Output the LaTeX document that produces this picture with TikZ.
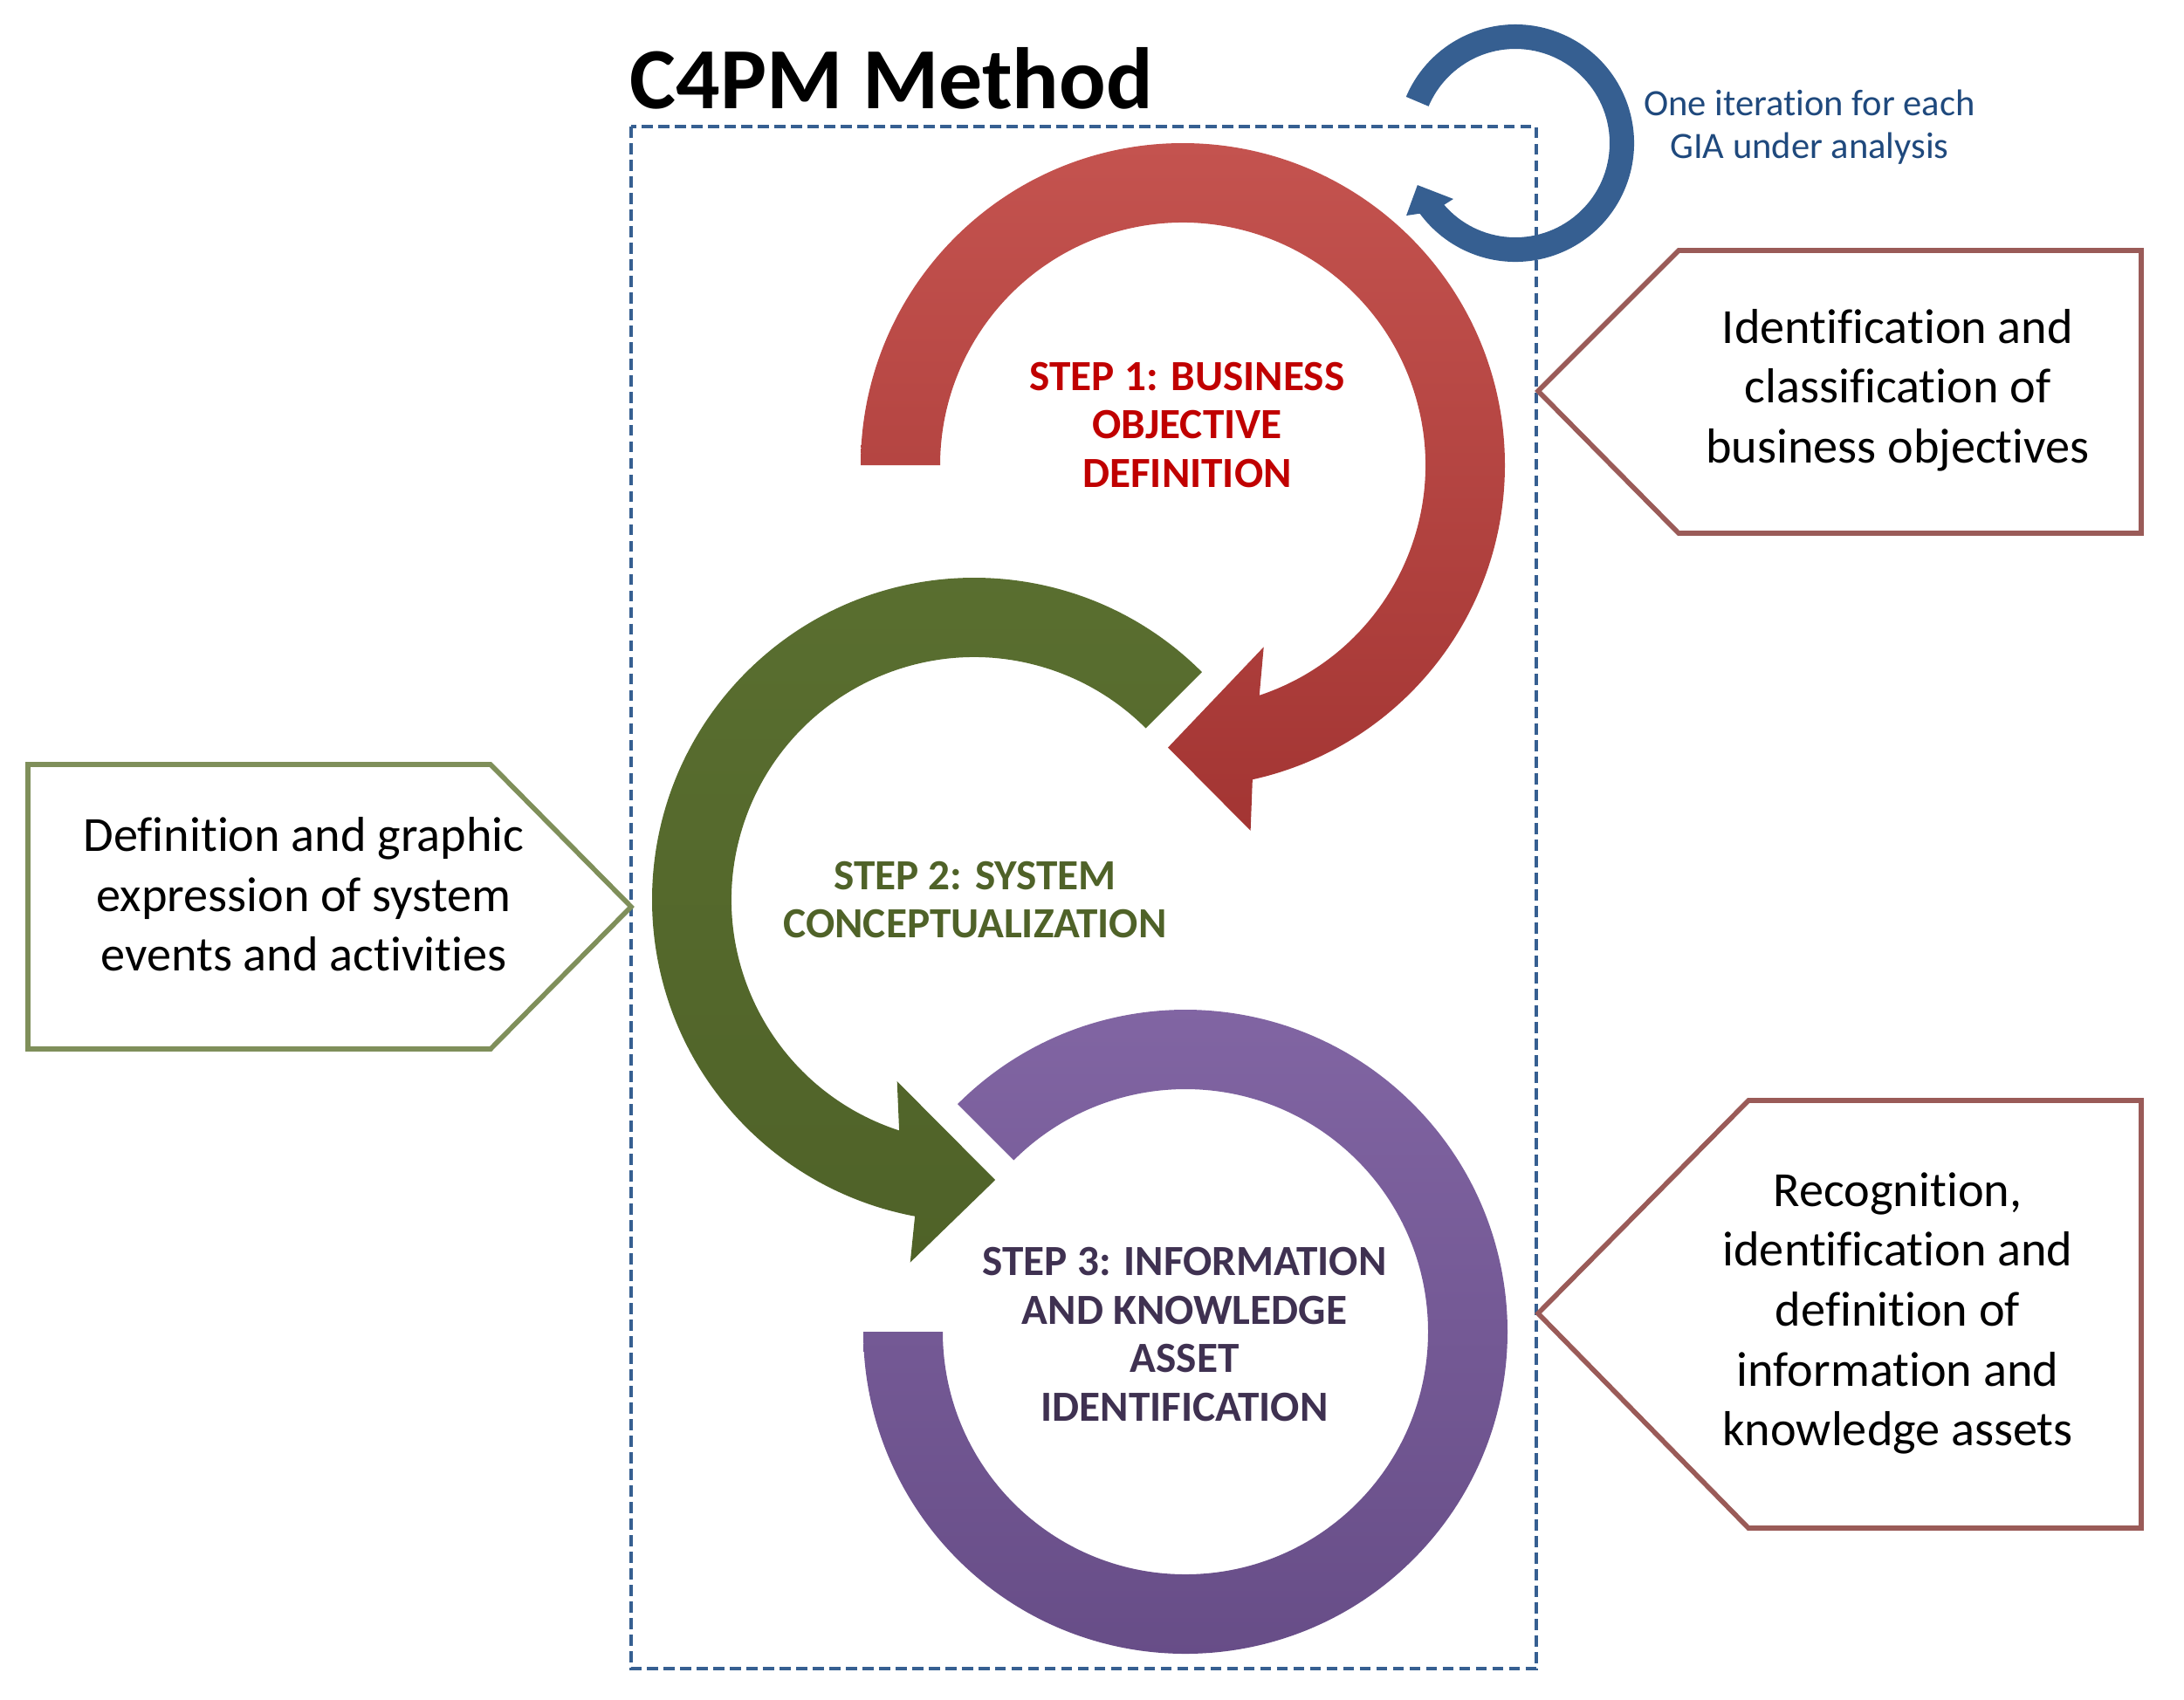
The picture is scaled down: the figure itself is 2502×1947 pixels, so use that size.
\documentclass[tikz,border=0pt]{standalone}
\usepackage{fontspec}
\setmainfont{Carlito}[Ligatures=NoCommon, RawFeature={-liga;-clig;-calt;-dlig}]
\usepackage{tikz}
\usepackage{color}

\definecolor{methodblue}{HTML}{365F91}
\definecolor{notetext}{HTML}{1F497D}
\definecolor{stepone}{HTML}{C00000}
\definecolor{steptwo}{HTML}{4F6228}
\definecolor{stepthree}{HTML}{3F3151}
\definecolor{redline}{HTML}{9A5B58}
\definecolor{greenline}{HTML}{7F8F5A}
\definecolor{redtop}{HTML}{C4534F}
\definecolor{redbottom}{HTML}{A33533}
\definecolor{greentop}{HTML}{5A6F30}
\definecolor{purpletop}{HTML}{8266A4}
\definecolor{purplebottom}{HTML}{664C86}

\begin{document}
\begin{tikzpicture}[%
      x=0.01cm, y=0.01cm,
      box/.style={line width=1.6pt, line join=miter, fill=white},
      boxtext/.style={align=center, inner sep=0pt, font=\fontsize{16}{19.5}\selectfont},
      steptext/.style={align=center, inner sep=0pt, font=\bfseries\fontsize{14}{15.9}\selectfont},
      ]
      \useasboundingbox (0,0) rectangle (2502,-1947);

      \draw [color=methodblue, line width=0.9pt, dash pattern=on 3.6pt off 1.8pt] (723,-145) rectangle (1760,-1912);

      \node [anchor=base west, inner sep=0pt, font=\bfseries\fontsize{28.4}{34}\selectfont] (title) at (721,-124) {C4PM Method};

      % iteration loop
      \begin{scope}[shift={(1736,-164)}]
      \fill [color=methodblue] (157:108) -- (157:136) arc[start angle=157, end angle=-143.6, radius=136]
            -- (-146.4:150) -- (-156.8:122) -- (-138:95.6) -- (-139.1:108)
            arc[start angle=-139.1, end angle=157, radius=108] -- cycle;
      \end{scope}
      \node [align=center, inner sep=0pt, text=notetext, font=\fontsize{12.1}{13.9}\selectfont] (note) at (2073,-146) {One iteration for each\\GIA under analysis};

      % step 1
      \begin{scope}[shift={(1355,-533)}]
      \shade [top color=redtop, bottom color=redbottom] (180:278) -- (180:369) arc[start angle=180, end angle=-77.5, radius=369]
            -- (-79.5:426) -- (-93:324) -- (-66:228) -- (-71.6:278)
            arc[start angle=-71.6, end angle=180, radius=278] -- cycle;
      \end{scope}

      % step 2
      \begin{scope}[shift={(1116,-1031)}]
      \shade [top color=greentop, bottom color=steptwo] (45:278) -- (45:369) arc[start angle=45, end angle=259.4, radius=369]
            -- (260:422) -- (274.3:322) -- (247:226) -- (252:278)
            arc[start angle=252, end angle=45, radius=278] -- cycle;
      \end{scope}

      % step 3
      \begin{scope}[shift={(1358,-1526)}]
      \shade [top color=purpletop, bottom color=purplebottom] (135:278) -- (135:369) arc[start angle=135, end angle=-180, radius=369]
            -- (-180:278) arc[start angle=-180, end angle=135, radius=278] -- cycle;
      \end{scope}

      \node [steptext, text=stepone] (step1) at (1360,-487) {STEP 1: BUSINESS\\OBJECTIVE\\DEFINITION};
      \node [steptext, text=steptwo] (step2) at (1117,-1031) {STEP 2: SYSTEM\\CONCEPTUALIZATION};
      \node [steptext, text=stepthree] (step3) at (1357,-1529) {STEP 3: INFORMATION\\AND KNOWLEDGE\\ASSET\\IDENTIFICATION};

      % callouts
      \draw [box, draw=redline] (1762,-448) -- (1923,-287) -- (2453,-287) -- (2453,-611) -- (1923,-611) -- cycle;
      \node [boxtext] (objectives) at (2174,-447) {Identification and\\classification of\\business objectives};

      \draw [box, draw=greenline] (32,-876) -- (562,-876) -- (723,-1039) -- (562,-1202) -- (32,-1202) -- cycle;
      \node [boxtext] (conceptual) at (348,-1025) {Definition and graphic\\expression of system\\events and activities};

      \draw [box, draw=redline] (1762,-1505) -- (2003,-1261) -- (2453,-1261) -- (2453,-1751) -- (2003,-1751) -- cycle;
      \node [boxtext] (assets) at (2174,-1505) {Recognition,\\identification and\\definition of\\information and\\knowledge assets};
      \end{tikzpicture}
\end{document}
